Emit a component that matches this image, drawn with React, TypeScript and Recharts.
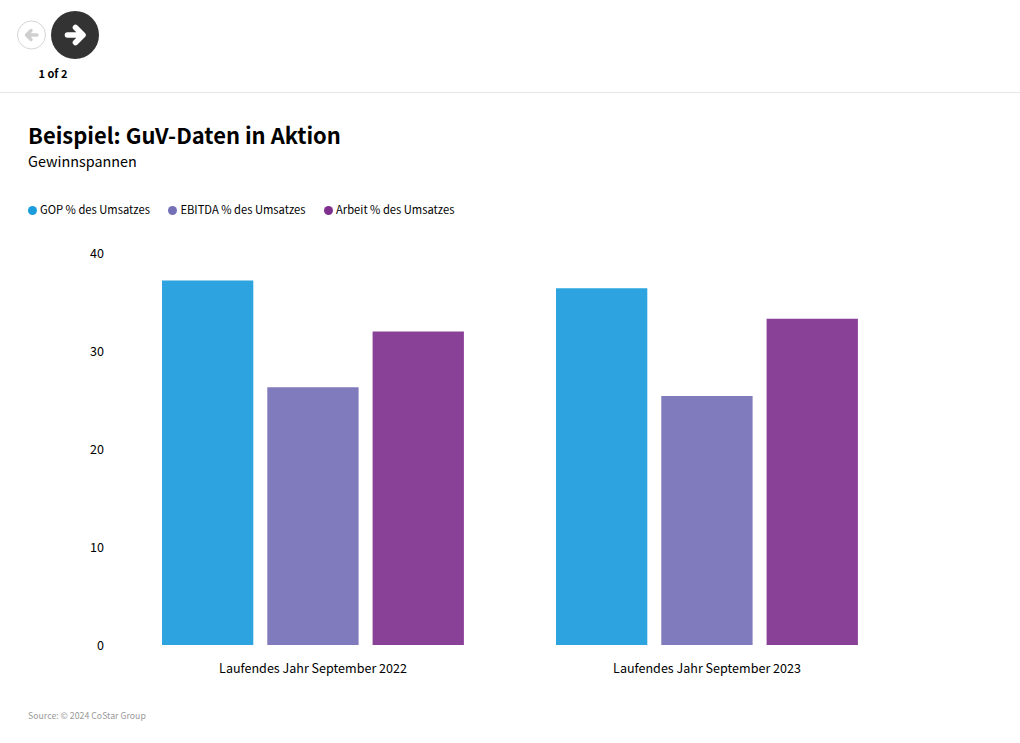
import { BarChart, Bar, XAxis, YAxis, Legend } from "recharts";

const FONT = '"Noto Sans CJK SC", "Noto Sans", sans-serif';

const categories = ["Laufendes Jahr September 2022", "Laufendes Jahr September 2023"];
const gopValues = [37.2, 36.4];
const ebitdaValues = [26.3, 25.4];
const laborValues = [32.0, 33.3];
const yTicks = [0, 10, 20, 30, 40];

const chartData = categories.map((name, i) => ({
  name,
  gop: gopValues[i],
  ebitda: ebitdaValues[i],
  labor: laborValues[i],
}));

const NavButtons = () => (
  <svg width={120} height={70} style={{ position: "absolute", left: 0, top: 0 }}>
    <circle cx={31.5} cy={35} r={14} fill="#fff" stroke="#d6d6d6" />
    <path
      d="M37 35H27.5M31 30.5L26.5 35L31 39.5"
      fill="none"
      stroke="#cfcfcf"
      strokeWidth={3.4}
      strokeLinecap="round"
      strokeLinejoin="round"
    />
    <circle cx={75} cy={35} r={24} fill="#333333" />
    <path
      d="M67.5 35H82M75.5 27.5L83 35L75.5 42.5"
      fill="none"
      stroke="#fff"
      strokeWidth={5.6}
      strokeLinecap="round"
      strokeLinejoin="round"
    />
  </svg>
);

export default function App() {
  return (
    <div
      style={{
        position: "absolute",
        left: 0,
        top: 0,
        width: 1020,
        height: 743,
        background: "#fff",
        overflow: "hidden",
        fontFamily: FONT,
        color: "#000",
      }}
    >
      <NavButtons />
      <div style={{ position: "absolute", left: 0, width: 106, top: 65, textAlign: "center", fontSize: 11, fontWeight: 700, lineHeight: "16px" }}>
        1 of 2
      </div>
      <div style={{ position: "absolute", left: 0, top: 92, width: 1020, height: 1, background: "#e6e6e6" }} />
      <div style={{ position: "absolute", left: 28, top: 118, fontSize: 21.93, fontWeight: 700, lineHeight: "34px", whiteSpace: "nowrap" }}>
        Beispiel: GuV-Daten in Aktion
      </div>
      <div style={{ position: "absolute", left: 28, top: 150, fontSize: 14.4, lineHeight: "22px", whiteSpace: "nowrap" }}>
        Gewinnspannen
      </div>

      <BarChart
        width={1020}
        height={743}
        data={chartData}
        margin={{ top: 235, right: 116, bottom: 58, left: 0 }}
        barSize={91.3}
        barGap={14}
        style={{ position: "absolute", left: 0, top: 0 }}
      >
        <XAxis
          dataKey="name"
          axisLine={false}
          tickLine={false}
          tickMargin={13}
          height={40}
          tick={{ fontSize: 12.55, fill: "#000", fontFamily: FONT }}
        />
        <YAxis
          domain={[0, 40]}
          ticks={yTicks}
          axisLine={false}
          tickLine={false}
          width={116}
          tickMargin={6}
          tick={{ fontSize: 12.55, fill: "#000", fontFamily: FONT, dy: 1 }}
        />
        <Legend
          verticalAlign="top"
          align="left"
          iconType="circle"
          iconSize={9}
          itemSorter={null}
          wrapperStyle={{ position: "absolute", left: 28, top: 200, width: 600, fontSize: 11.2, lineHeight: "18px" }}
          formatter={(value) => <span style={{ color: "#000", marginLeft: -1, marginRight: 8.5 }}>{value}</span>}
        />
        <Bar dataKey="gop" name="GOP % des Umsatzes" fill="#1b9cdc" fillOpacity={0.92} isAnimationActive={false} />
        <Bar dataKey="ebitda" name="EBITDA % des Umsatzes" fill="#7470b6" fillOpacity={0.92} isAnimationActive={false} />
        <Bar dataKey="labor" name="Arbeit % des Umsatzes" fill="#7f308e" fillOpacity={0.92} isAnimationActive={false} />
      </BarChart>

      <div style={{ position: "absolute", left: 28, top: 709, fontSize: 8.75, color: "#999", lineHeight: "14px", whiteSpace: "nowrap" }}>
        Source: © 2024 CoStar Group
      </div>
    </div>
  );
}
